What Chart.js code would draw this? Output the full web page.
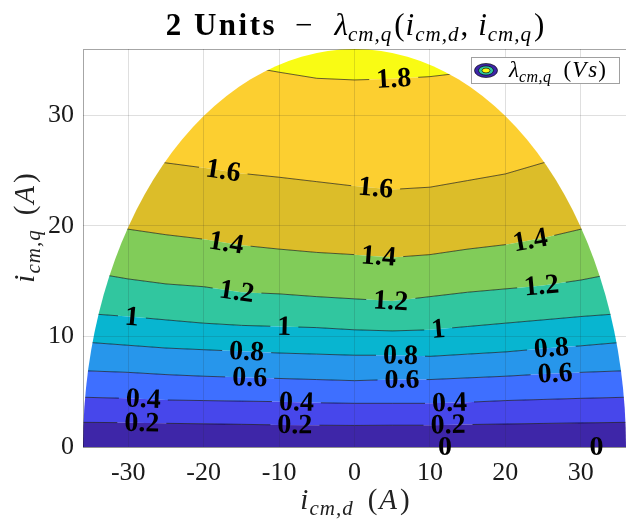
<!DOCTYPE html>
<html>
<head>
<meta charset="utf-8">
<script src="https://cdn.jsdelivr.net/npm/chart.js@4.4.0/dist/chart.umd.min.js"></script>
<style>
  html, body { margin: 0; padding: 0; background: #fff; }
</style>
</head>
<body>
<canvas id="contour" width="626" height="524"></canvas>
<script>
const idSamples = [-36, -30, -25, -20, -15, -10, -5, 0, 5, 10, 15, 20, 25, 30, 36];

// contour levels of lambda_cm,q (Vs)
const levels = [0.2, 0.4, 0.6, 0.8, 1.0, 1.2, 1.4, 1.6, 1.8];

// i_cm,q (A) of each contour line at idSamples
const iq02 = [2.23, 2.2, 2.14, 2.1, 2.05, 2.0, 1.97, 1.95, 1.97, 1.97, 2.03, 2.08, 2.13, 2.18, 2.23];
const iq04 = [4.5, 4.4, 4.25, 4.2, 4.15, 4.1, 4.0, 3.95, 3.95, 3.95, 4.05, 4.2, 4.3, 4.4, 4.5];
const iq06 = [6.9, 6.75, 6.55, 6.4, 6.3, 6.2, 6.1, 6.0, 6.1, 6.1, 6.25, 6.4, 6.6, 6.75, 6.9];
const iq08 = [9.5, 9.2, 8.95, 8.8, 8.65, 8.5, 8.4, 8.3, 8.3, 8.2, 8.4, 8.6, 8.9, 9.15, 9.5];
const iq10 = [12.1, 11.8, 11.5, 11.2, 11.0, 10.9, 10.8, 10.6, 10.5, 10.6, 10.9, 11.2, 11.5, 11.8, 12.1];
const iq12 = [15.9, 15.2, 14.75, 14.5, 14.0, 13.85, 13.6, 13.4, 13.2, 13.6, 14.0, 14.3, 14.6, 15.1, 15.9];
const iq14 = [20.5, 19.7, 19.2, 18.8, 18.25, 17.9, 17.6, 17.4, 17.15, 17.4, 17.9, 18.3, 18.9, 19.7, 20.5];
const iq16 = [27.0, 26.2, 25.7, 25.25, 24.75, 24.4, 24.0, 23.6, 23.3, 23.5, 24.1, 24.7, 25.7, 26.5, 27.5];
const iq18 = [35.0, 35.0, 35.0, 34.8, 34.5, 33.9, 33.35, 33.2, 33.3, 33.5, 33.9, 34.5, 35.0, 35.0, 35.0];
const levelLines = [iq02, iq04, iq06, iq08, iq10, iq12, iq14, iq16, iq18];

// current limit (A): the map only exists inside this circle
const currentLimit = 36;

// contour labels: level and the i_cm,d where it sits on its line
const labelLevels = [1.8, 1.6, 1.6, 1.4, 1.4, 1.4, 1.2, 1.2, 1.2, 1, 1, 1,
  0.8, 0.8, 0.8, 0.6, 0.6, 0.6, 0.4, 0.4, 0.4, 0.2, 0.2, 0.2, 0, 0];
const labelIds = [5.2, -17.4, 2.8, -17.0, 3.2, 23.3, -15.6, 4.8, 24.8, -29.5, -9.3, 11.1,
  -14.3, 6.1, 26.1, -13.9, 6.3, 26.6, -28.0, -7.7, 12.6, -28.2, -7.9, 12.4, 12.0, 32.1];

const xTickVals = [-30, -20, -10, 0, 10, 20, 30];
const yTickVals = [0, 10, 20, 30];

// parula, one colour per band
const bandColors = ['#3e26a8', '#4747eb', '#3e6fff', '#2796eb', '#08b5d0',
  '#31c69f', '#81cc59', '#dcbd29', '#fccf30', '#f9fb14'];

const SERIF = '"Liberation Serif", "Times New Roman", serif';
const LABEL_FONT = 'bold 28px ' + SERIF;

const datasets = levels.map((lv, k) => ({
  label: String(lv),
  data: idSamples.map((x, i) => ({ x: x, y: levelLines[k][i] })),
  borderColor: 'rgba(0,0,0,0.75)',
  borderWidth: 0.8,
  backgroundColor: bandColors[k],
  fill: k === 0 ? 'origin' : '-1',
  pointRadius: 0,
  tension: 0
}));
datasets.push({
  label: 'top',
  data: idSamples.map((x, i) => ({ x: x, y: iq18[i] })),
  borderWidth: 0,
  backgroundColor: bandColors[9],
  fill: 'end',
  pointRadius: 0,
  tension: 0
});

function labelGeom(chart, j) {
  const xs = chart.scales.x, ys = chart.scales.y;
  const lv = labelLevels[j], x = labelIds[j];
  const k = levels.indexOf(lv);
  if (k < 0) return { px: xs.getPixelForValue(x), py: ys.getPixelForValue(0), ang: 0 };
  const line = levelLines[k];
  let i = 0;
  while (i < idSamples.length - 2 && idSamples[i + 1] < x) i++;
  const t = (x - idSamples[i]) / (idSamples[i + 1] - idSamples[i]);
  const y = line[i] + t * (line[i + 1] - line[i]);
  const dx = xs.getPixelForValue(idSamples[i + 1]) - xs.getPixelForValue(idSamples[i]);
  const dy = ys.getPixelForValue(line[i + 1]) - ys.getPixelForValue(line[i]);
  return { px: xs.getPixelForValue(x), py: ys.getPixelForValue(y), ang: Math.atan2(dy, dx) };
}

// rich text: each part has its own font, baseline shift and trailing space
function drawParts(ctx, parts, x, y) {
  let cx = x;
  parts.forEach(p => {
    ctx.font = p.f;
    ctx.letterSpacing = (p.ls || 0) + 'px';
    ctx.fillText(p.t, cx, y + (p.dy || 0));
    cx += ctx.measureText(p.t).width + (p.sp || 0);
  });
  ctx.letterSpacing = '0px';
}
function partsWidth(ctx, parts) {
  let w = 0;
  parts.forEach(p => {
    ctx.font = p.f;
    ctx.letterSpacing = (p.ls || 0) + 'px';
    w += ctx.measureText(p.t).width + (p.sp || 0);
  });
  ctx.letterSpacing = '0px';
  return w;
}

const contourPlugin = {
  id: 'contourDecor',
  beforeDatasetsDraw(chart) {
    const ctx = chart.ctx, xs = chart.scales.x, ys = chart.scales.y;
    const cx = xs.getPixelForValue(0), cy = ys.getPixelForValue(0);
    const rx = xs.getPixelForValue(currentLimit) - cx;
    const ry = cy - ys.getPixelForValue(currentLimit);
    ctx.save();
    ctx.beginPath();
    ctx.ellipse(cx, cy, rx, ry, 0, 0, 2 * Math.PI);
    ctx.clip();
  },
  afterDatasetsDraw(chart) {
    chart.ctx.restore();
  },
  beforeDatasetDraw(chart, args) {
    if (args.index >= levels.length) return;
    const ctx = chart.ctx;
    const lv = levels[args.index];
    ctx.save();
    ctx.beginPath();
    ctx.rect(0, 0, chart.width, chart.height);
    ctx.font = LABEL_FONT;
    labelLevels.forEach((l, j) => {
      if (l !== lv) return;
      const g = labelGeom(chart, j);
      const hw = ctx.measureText(String(l)).width / 2 + 7, hh = 6;
      const c = Math.cos(g.ang), s = Math.sin(g.ang);
      const pts = [[-hw, -hh], [hw, -hh], [hw, hh], [-hw, hh]].map(p =>
        [g.px + p[0] * c - p[1] * s, g.py + p[0] * s + p[1] * c]);
      ctx.moveTo(pts[0][0], pts[0][1]);
      for (let q = 1; q < 4; q++) ctx.lineTo(pts[q][0], pts[q][1]);
      ctx.closePath();
    });
    ctx.clip('evenodd');
    args.meta._gapClip = true;
  },
  afterDatasetDraw(chart, args) {
    if (args.meta._gapClip) { chart.ctx.restore(); args.meta._gapClip = false; }
  },
  afterDraw(chart) {
    const ctx = chart.ctx, a = chart.chartArea;
    ctx.save();
    // axes box
    ctx.strokeStyle = 'rgba(0,0,0,0.35)';
    ctx.lineWidth = 1;
    ctx.strokeRect(a.left + 0.5, a.top + 0.5, a.right - a.left, a.bottom - a.top);

    // contour labels
    ctx.fillStyle = '#000';
    ctx.font = LABEL_FONT;
    ctx.textAlign = 'center';
    ctx.textBaseline = 'middle';
    labelLevels.forEach((l, j) => {
      const g = labelGeom(chart, j);
      ctx.save();
      ctx.translate(g.px, g.py);
      ctx.rotate(g.ang);
      ctx.fillText(String(l), 0, 1);
      ctx.restore();
    });

    ctx.textAlign = 'left';
    ctx.textBaseline = 'alphabetic';
    ctx.fillStyle = '#000';

    // title
    const main = '31px ' + SERIF, it = 'italic 31px ' + SERIF, sub = 'italic 21px ' + SERIF;
    const title = [
      { t: '2 Units', f: 'bold 31px ' + SERIF, ls: 2.5, sp: 18 },
      { t: '\u2212', f: main, sp: 22 },
      { t: '\u03bb', f: it },
      { t: 'cm,q', f: sub, ls: 1, dy: 6, sp: 2 },
      { t: '(', f: main, sp: 1 },
      { t: 'i', f: it, sp: 1 },
      { t: 'cm,d', f: sub, ls: 1, dy: 6, sp: 1 },
      { t: ',', f: main, sp: 10 },
      { t: 'i', f: it, sp: 1 },
      { t: 'cm,q', f: sub, ls: 1, dy: 6, sp: 2 },
      { t: ')', f: main }
    ];
    drawParts(ctx, title, 355 - partsWidth(ctx, title) / 2, 35);

    // axis titles
    ctx.fillStyle = '#222';
    const amain = '29px ' + SERIF, ait = 'italic 29px ' + SERIF, asub = 'italic 21px ' + SERIF;
    const xl = [
      { t: 'i', f: ait, sp: 1 },
      { t: 'cm,d', f: asub, ls: 1, dy: 6, sp: 14 },
      { t: '(', f: amain, sp: 2 },
      { t: 'A', f: ait, sp: 3 },
      { t: ')', f: amain }
    ];
    drawParts(ctx, xl, 355 - partsWidth(ctx, xl) / 2, 509);
    const yl = [
      { t: 'i', f: ait, sp: 1 },
      { t: 'cm,q', f: asub, ls: 1, dy: 6, sp: 14 },
      { t: '(', f: amain, sp: 2 },
      { t: 'A', f: ait, sp: 3 },
      { t: ')', f: amain }
    ];
    ctx.save();
    ctx.translate(34, 228);
    ctx.rotate(-Math.PI / 2);
    drawParts(ctx, yl, -partsWidth(ctx, yl) / 2, 0);
    ctx.restore();

    // legend
    ctx.fillStyle = '#fff';
    ctx.fillRect(471, 57, 148, 26);
    ctx.strokeStyle = '#a0a0a0';
    ctx.strokeRect(471.5, 57.5, 148, 26);
    const icon = [[11.5, 7, bandColors[0]], [7.5, 4.6, bandColors[5]], [4, 2.4, bandColors[9]]];
    icon.forEach(e => {
      ctx.beginPath();
      ctx.ellipse(486, 70.5, e[0], e[1], 0, 0, 2 * Math.PI);
      ctx.fillStyle = e[2];
      ctx.fill();
      ctx.strokeStyle = 'rgba(0,0,0,0.8)';
      ctx.lineWidth = 0.8;
      ctx.stroke();
    });
    ctx.fillStyle = '#000';
    const lg = [
      { t: '\u03bb', f: 'italic 23px ' + SERIF },
      { t: 'cm,q', f: 'italic 16px ' + SERIF, ls: 0.5, dy: 5, sp: 12 },
      { t: '(', f: '23px ' + SERIF, sp: 1 },
      { t: 'V', f: 'italic 23px ' + SERIF, sp: 2 },
      { t: 's', f: 'italic 23px ' + SERIF, sp: 1 },
      { t: ')', f: '23px ' + SERIF }
    ];
    drawParts(ctx, lg, 509, 77);
    ctx.restore();
  }
};

const gridOpts = { color: 'rgba(38,38,38,0.15)', drawTicks: false, lineWidth: 1, z: 1 };

new Chart(document.getElementById('contour'), {
  type: 'line',
  data: { datasets: datasets },
  options: {
    responsive: false,
    animation: false,
    devicePixelRatio: 1,
    layout: { padding: { top: 49, right: 0, bottom: 0, left: 0 } },
    plugins: {
      legend: { display: false },
      tooltip: { enabled: false },
      title: { display: false }
    },
    scales: {
      x: {
        type: 'linear',
        min: -36,
        max: 36,
        afterBuildTicks: s => { s.ticks = xTickVals.map(v => ({ value: v })); },
        afterFit: s => { s.height = 77; },
        ticks: { font: { family: SERIF, size: 26 }, color: '#1a1a1a', padding: 11, maxRotation: 0 },
        grid: gridOpts,
        border: { display: false }
      },
      y: {
        type: 'linear',
        min: 0,
        max: 36,
        afterBuildTicks: s => { s.ticks = yTickVals.map(v => ({ value: v })); },
        afterFit: s => { s.width = 83; },
        ticks: { font: { family: SERIF, size: 26 }, color: '#1a1a1a', padding: 9 },
        grid: gridOpts,
        border: { display: false }
      }
    }
  },
  plugins: [contourPlugin]
});
</script>
</body>
</html>
